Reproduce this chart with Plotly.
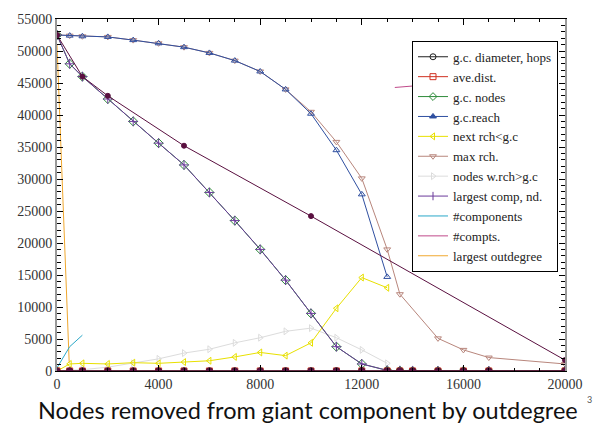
import plotly.graph_objects as go

# ---- data ----
x_main = [0, 500, 1000, 2000, 3000, 4000, 5000, 6000, 7000, 8000, 9000, 10000,
          11000, 12000, 13000, 13500, 14000, 15000, 16000, 17000, 20000]

gc_diameter = [12, 15, 16, 18, 20, 22, 24, 26, 28, 30, 34, 40, 45, 50, 40, 20, 15, 10, 8, 6, 4]
ave_dist = [4, 5, 5, 5, 5, 6, 6, 6, 7, 7, 8, 9, 10, 11, 9, 6, 5, 4, 4, 3, 3]
gc_nodes = [52500, 48000, 46000, 42500, 39000, 35600, 32200, 27900, 23500, 19000,
            14200, 9000, 3800, 1100, 100, 50, 30, 20, 15, 10, 5]
largest_comp = gc_nodes

x_reach = [0, 500, 1000, 2000, 3000, 4000, 5000, 6000, 7000, 8000, 9000, 10000,
           11000, 12000, 13000]
gc_reach = [52500, 52400, 52300, 52200, 51700, 51200, 50600, 49700, 48500, 46800,
            44000, 40200, 34500, 27600, 14700]

x_maxr = [0, 500, 1000, 2000, 3000, 4000, 5000, 6000, 7000, 8000, 9000, 10000,
          11000, 12000, 13000, 13500, 15000, 16000, 17000, 20000]
max_rch = [52500, 52400, 52300, 52200, 51700, 51200, 50600, 49700, 48500, 46800,
           44000, 40500, 35800, 30100, 19000, 12000, 5100, 3300, 2100, 1100]

x_next = [0, 500, 1000, 2000, 3000, 4000, 5000, 6000, 7000, 8000, 9000, 10000,
          11000, 12000, 13000]
next_rch = [0, 1100, 1200, 1100, 1300, 1200, 1400, 1600, 2200, 2900, 2400, 4400,
            9800, 14600, 13000]

x_wrch = [0, 1000, 2000, 3000, 4000, 5000, 6000, 7000, 8000, 9000, 10000, 11000,
          12000, 13000]
nodes_wrch = [0, 200, 600, 1200, 1900, 2800, 3400, 4400, 5200, 6200, 6700, 5200,
              3300, 1200]

x_comp = [0, 500, 1000]
n_components = [500, 3800, 5600]

x_compts = [13300, 17000]
n_compts = [44300, 45500]

x_outdeg = [0, 430, 480]
largest_outdeg = [51000, 5300, 1300]

x_dark = [0, 1000, 2000, 5000, 10000, 20000]
dark_series = [52500, 46000, 43000, 35200, 24200, 1700]

x_ticks = [0, 4000, 8000, 12000, 16000, 20000]
y_ticks = [0, 5000, 10000, 15000, 20000, 25000, 30000, 35000, 40000, 45000, 50000, 55000]

legend_names = ["g.c. diameter, hops", "ave.dist.", "g.c. nodes", "g.c.reach",
                "next rch<g.c", "max rch.", "nodes w.rch>g.c", "largest comp, nd.",
                "#components", "#compts.", "largest outdegree"]

fig = go.Figure()

def add(x, y, name, color, symbol=None, show=True, width=1, size=6, mode="lines+markers"):
    m = dict(color=color, size=size, symbol=symbol, line=dict(color=color, width=1)) if symbol else None
    fig.add_trace(go.Scatter(
        x=x, y=y, name=name, mode=mode if symbol else "lines",
        line=dict(color=color, width=width), marker=m, showlegend=show))

add(x_compts, n_compts, "#compts.", "#c04a8a", show=False)
add(x_outdeg, largest_outdeg, "largest outdegree", "#f0a830", show=False)
add(x_wrch, nodes_wrch, "nodes w.rch>g.c", "#dcdcdc", "triangle-right-open", show=False)
add(x_next, next_rch, "next rch<g.c", "#e8e000", "triangle-left-open", show=False)
add(x_maxr, max_rch, "max rch.", "#b8867c", "triangle-down-open", show=False)
add(x_reach, gc_reach, "g.c.reach", "#2f4fa0", "triangle-up-open", show=False)
add(x_main, gc_nodes, "g.c. nodes", "#2e8b3a", "diamond-open", show=False, size=7)
add(x_main, largest_comp, "largest comp, nd.", "#6a3a9a", "cross-thin-open", show=False, size=7)
add(x_comp, n_components, "#components", "#2aa8c8", show=False)
add(x_main, ave_dist, "ave.dist.", "#d03020", "square-open", show=False)
add(x_main, gc_diameter, "g.c. diameter, hops", "#202020", "circle-open", show=False)
add(x_dark, dark_series, "", "#5a1040", "circle", show=False, size=5)
add(x_main, [v * 0 for v in x_main], "", "#5a1040", "circle", show=False, size=6)

# legend-only traces in legend order
legend_styles = [
    ("#202020", "circle-open"),
    ("#d03020", "square-open"),
    ("#2e8b3a", "diamond-open"),
    ("#2f4fa0", "triangle-up"),
    ("#e8e000", "triangle-left-open"),
    ("#b8867c", "triangle-down-open"),
    ("#dcdcdc", "triangle-right-open"),
    ("#6a3a9a", "line-ns-open"),
    ("#2aa8c8", None),
    ("#c04a8a", None),
    ("#f0a830", None),
]
for name, (color, sym) in zip(legend_names, legend_styles):
    fig.add_trace(go.Scatter(
        x=[None], y=[None], name=name,
        mode="lines+markers" if sym else "lines",
        line=dict(color=color, width=1),
        marker=dict(symbol=sym, color=color, size=6, line=dict(color=color, width=1)) if sym else None,
    ))

serif = "Liberation Serif"
axis_font = dict(family=serif, size=14, color="#333333")
fig.update_xaxes(range=[0, 20000], tickvals=x_ticks, ticktext=[str(v) for v in x_ticks],
                 ticks="inside", ticklen=6, tickcolor="#000", mirror="ticks",
                 showline=True, linecolor="#000", linewidth=1, showgrid=False, zeroline=False,
                 minor=dict(ticks="inside", dtick=1000, ticklen=3, tickcolor="#000"),
                 tickfont=axis_font)
fig.update_yaxes(range=[0, 55000], tickvals=y_ticks, ticktext=[str(v) for v in y_ticks],
                 ticks="inside", ticklen=6, tickcolor="#000", mirror="ticks",
                 showline=True, linecolor="#999", linewidth=2, showgrid=False, zeroline=False,
                 minor=dict(ticks="inside", dtick=1000, ticklen=4, tickcolor="#000"),
                 tickfont=axis_font)

fig.update_layout(
    width=597, height=426,
    margin=dict(l=57, r=32, t=16, b=55),
    paper_bgcolor="white", plot_bgcolor="white",
    legend=dict(x=(412 - 57) / 508, y=(371 - 38) / 355, xanchor="left", yanchor="top",
                bgcolor="white", bordercolor="#000", borderwidth=1,
                font=dict(family=serif, size=13, color="#222"),
                itemwidth=30, tracegroupgap=0),
    annotations=[
        dict(text="Nodes removed from giant component by outdegree", x=(308 - 57) / 508,
             y=(371 - 410) / 355,
             xref="paper", yref="paper", xanchor="center", yanchor="middle", showarrow=False,
             font=dict(family="Lato", size=23.5, color="#111")),
        dict(text="3", x=(594 - 57) / 508, y=(371 - 407) / 355, xref="paper", yref="paper",
             showarrow=False, font=dict(family="Lato", size=9, color="#555")),
    ],
)

fig.write_html("out.html", post_script="document.body.style.margin='0';",
               config={"displayModeBar": False})
